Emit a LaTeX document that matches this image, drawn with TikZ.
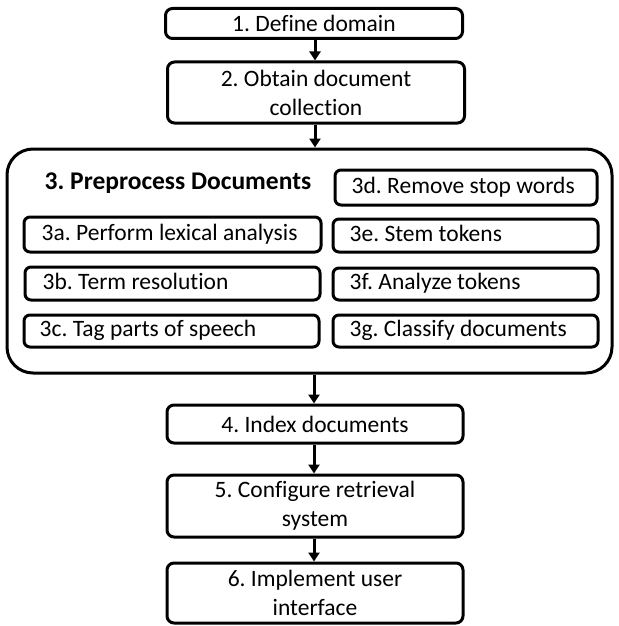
\documentclass[tikz,border=0pt]{standalone}
\usepackage{fontspec}
\setmainfont{Carlito}[Ligatures=NoCommon]
\usetikzlibrary{arrows.meta}
\frenchspacing
\begin{document}
\begin{tikzpicture}[x=1pt,y=-1pt,
  every node/.style={font=\fontsize{23.5}{29}\selectfont},
  stepbox/.style={draw, line width=3pt, rounded corners=7pt, align=center, inner sep=0pt},
  subbox/.style={draw, line width=3pt, rounded corners=6pt, inner sep=0pt, anchor=center},
  subtext/.style={anchor=west, text height=16pt, text depth=5pt, inner sep=0pt},
  flow/.style={line width=3pt, -{Triangle[length=9pt,width=11pt]}}]
\useasboundingbox (0,0) rectangle (618,626);
% main steps
\node[stepbox, minimum width=297pt, minimum height=30pt] (s1) at (314,23.5) {1. Define domain};
\node[stepbox, minimum width=297pt, minimum height=61pt] (s2) at (316,92.5) {2. Obtain document\\collection};
\node[draw, line width=3pt, rounded corners=26pt, minimum width=605pt, minimum height=224pt, inner sep=0pt] (s3) at (309.5,261) {};
\node[font=\fontsize{25.5}{29}\selectfont\bfseries, text height=17pt, text depth=5pt, inner sep=0pt] (title) at (178,183) {3. Preprocess Documents};
% preprocessing sub-steps
\node[subbox, minimum width=297pt, minimum height=35pt] (a) at (172.5,234.5) {};
\node[subtext] at ([xshift=19pt]a.west) {3a. Perform lexical analysis};
\node[subbox, minimum width=295pt, minimum height=33pt] (b) at (172.5,283.5) {};
\node[subtext] at ([xshift=19pt]b.west) {3b. Term resolution};
\node[subbox, minimum width=295pt, minimum height=32pt] (c) at (171.5,331) {};
\node[subtext] at ([xshift=17pt]c.west) {3c. Tag parts of speech};
\node[subbox, minimum width=262pt, minimum height=35pt] (d) at (466,187.5) {};
\node[subtext] at ([xshift=18pt]d.west) {3d. Remove stop words};
\node[subbox, minimum width=265pt, minimum height=33pt] (e) at (465.5,235.5) {};
\node[subtext] at ([xshift=18pt]e.west) {3e. Stem tokens};
\node[subbox, minimum width=265pt, minimum height=32pt] (f) at (465.5,284) {};
\node[subtext] at ([xshift=18pt]f.west) {3f. Analyze tokens};
\node[subbox, minimum width=265pt, minimum height=32pt] (g) at (465.5,331) {};
\node[subtext] at ([xshift=18pt]g.west) {3g. Classify documents};
% remaining steps
\node[stepbox, minimum width=296pt, minimum height=38pt] (s4) at (315,424) {4. Index documents};
\node[stepbox, minimum width=296pt, minimum height=62pt] (s5) at (315,506) {5. Configure retrieval\\system};
\node[stepbox, minimum width=296pt, minimum height=60pt] (s6) at (315,593) {6. Implement user\\interface};
% connectors
\draw[flow] (315,0 |- s1.south) -- (315,0 |- s2.north);
\draw[flow] (315,0 |- s2.south) -- (315,0 |- s3.north);
\draw[flow] (314,0 |- s3.south) -- (314,0 |- s4.north);
\draw[flow] (314,0 |- s4.south) -- (314,0 |- s5.north);
\draw[flow] (314,0 |- s5.south) -- (314,0 |- s6.north);
\end{tikzpicture}
\end{document}
